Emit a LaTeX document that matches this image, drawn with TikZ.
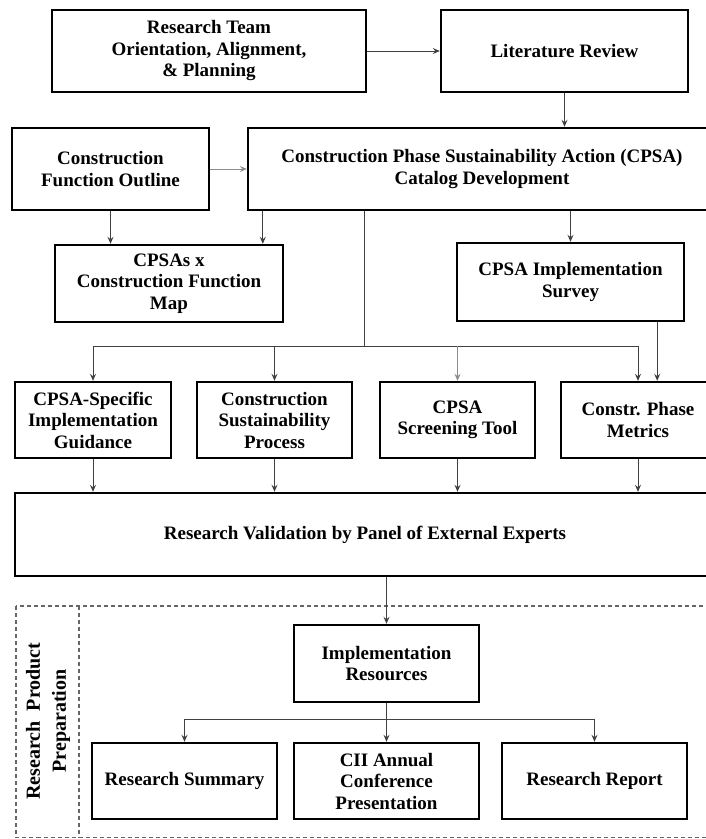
\documentclass[tikz,border=0pt]{standalone}
\usepackage{fontspec}
\setmainfont{Liberation Serif}
\usetikzlibrary{arrows.meta,calc}
\tikzset{
  box/.style={draw=black, line width=2.4pt, inner sep=0pt, align=center,
    font=\bfseries\fontsize{19}{21.5}\selectfont, fill=white},
  arr/.style={draw=black!75, line width=0.9pt, -{Stealth[length=7pt,width=6pt,inset=2.5pt]}},
  ln/.style={draw=black!75, line width=0.9pt},
  lightarr/.style={arr, draw=black!45},
  dashbox/.style={draw=black!60, line width=1.2pt, dash pattern=on 4pt off 3pt},
}
\begin{document}
\begin{tikzpicture}[x=1pt,y=-1pt]
\useasboundingbox (0,0) rectangle (706,839);
\clip (0,0) rectangle (706,839);
\fill[white] (0,0) rectangle (706,839);

% dashed region
\draw[dashbox] (16,606) rectangle (730,837.5);
\draw[dashbox] (79,606) -- (79,837.5);
\node[rotate=90, align=center, font=\bfseries\fontsize{20}{26}\selectfont] (rpp) at (48,721) {Research\ \ Product\\Preparation};

% boxes
\node[box, minimum width=314pt, minimum height=82pt] (rt) at (209,51) {Research Team\\Orientation, Alignment,\\\& Planning};
\node[box, minimum width=247pt, minimum height=82pt] (lr) at (564.5,51) {Literature Review};
\node[box, minimum width=197pt, minimum height=82pt] (cfo) at (110.5,169) {Construction\\Function Outline};
\node[box, minimum width=468pt, minimum height=82pt] (cat) at (482,169) {Construction Phase Sustainability Action (CPSA)\\Catalog Development};
\node[box, minimum width=228pt, minimum height=77pt] (map) at (169,283.5) {CPSAs x\\Construction Function\\Map};
\node[box, minimum width=227pt, minimum height=78pt] (sur) at (570.5,282) {CPSA Implementation\\Survey};

\node[box, minimum width=156pt, minimum height=76pt] (g1) at (93,420) {CPSA-Specific\\Implementation\\Guidance};
\node[box, minimum width=155pt, minimum height=76pt] (g2) at (274.5,420) {Construction\\Sustainability\\Process};
\node[box, minimum width=155pt, minimum height=76pt] (g3) at (457.5,420) {CPSA\\Screening Tool};
\node[box, minimum width=154pt, minimum height=76pt] (g4) at (638,420) {Constr. Phase\\Metrics};

\node[box, minimum width=700pt, minimum height=83pt] (val) at (365,534.5) {Research Validation by Panel of External Experts};

\node[box, minimum width=185pt, minimum height=77pt] (imp) at (386.5,663.5) {Implementation\\Resources};
\node[box, minimum width=185pt, minimum height=76pt] (b1) at (184.5,781) {Research Summary};
\node[box, minimum width=185pt, minimum height=76pt] (b2) at (386.5,781) {CII Annual\\Conference\\Presentation};
\node[box, minimum width=185pt, minimum height=76pt] (b3) at (594.5,781) {Research Report};

% connectors
\draw[arr] (rt.east) -- (lr.west);
\draw[arr] (lr.south) -- (lr.south |- cat.north);
\draw[lightarr] (cfo.east) -- (cat.west);
\draw[arr] (cfo.south) -- (cfo.south |- map.north);
\coordinate (catmap) at ($(cat.south west)+(16,0)$);
\draw[arr] (catmap) -- (catmap |- map.north);
\draw[arr] (sur.north |- cat.south) -- (sur.north);

\coordinate (catbus) at ($(cat.south west)+(118,0)$);
\coordinate (bus) at ($(catbus)+(0,135)$);
\draw[ln] (catbus) -- (bus);
\draw[ln] (bus -| g1.north) -- (bus -| g4.north);
\draw[arr] (bus -| g1.north) -- (g1.north);
\draw[arr] (bus -| g2.north) -- (g2.north);
\draw[lightarr] (bus -| g3.north) -- (g3.north);
\draw[arr] (bus -| g4.north) -- (g4.north);
\coordinate (surg4) at ($(sur.south east)+(-28,0)$);
\draw[arr, line width=1.2pt] (surg4) -- (surg4 |- g4.north);

\foreach \g in {g1,g2,g3,g4} {
  \draw[arr] (\g.south) -- (\g.south |- val.north);
}
\draw[arr] (val.south -| imp.north) -- (imp.north);

\coordinate (impbus) at ($(imp.south)+(0,16)$);
\draw[ln] (imp.south) -- (impbus);
\draw[ln] (impbus -| b1.north) -- (impbus -| b3.north);
\draw[arr] (impbus -| b1.north) -- (b1.north);
\draw[arr] (impbus) -- (b2.north);
\draw[arr] (impbus -| b3.north) -- (b3.north);
\end{tikzpicture}
\end{document}
